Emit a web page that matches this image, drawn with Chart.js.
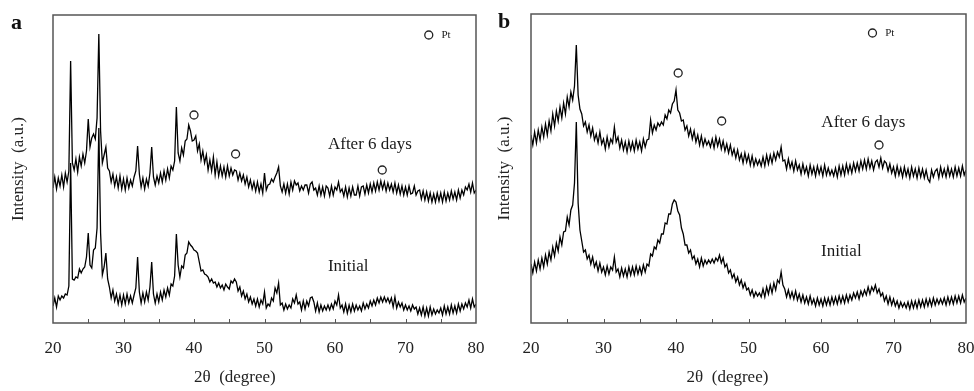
<!DOCTYPE html>
<html>
<head>
<meta charset="utf-8">
<script src="https://cdn.jsdelivr.net/npm/chart.js@4.4.1/dist/chart.umd.min.js"></script>
<style>
    html, body { margin: 0; padding: 0; background: #fff; }
    body { width: 974px; height: 391px; position: relative; overflow: hidden; font-family: "Liberation Serif", serif; }
    .panel { position: absolute; top: 0; width: 487px; height: 391px; }
    #panelA { left: 0; }
    #panelB { left: 487px; }
    .tag { position: absolute; font-size: 22px; font-weight: bold; color: #111; line-height: 1; }
</style>
</head>
<body>
<div class="panel" id="panelA"><canvas id="chartA" width="487" height="391"></canvas></div>
<div class="panel" id="panelB"><canvas id="chartB" width="487" height="391"></canvas></div>
<div class="tag" style="left:11px; top:11px;">a</div>
<div class="tag" style="left:498px; top:10px;">b</div>

<script>
/* ================= DATA ================= */
// 2θ sampling grid, 0.25° steps from 20 to 80
const twoTheta = Array.from({ length: 241 }, (_, i) => 20 + i * 0.25);

// panel a
const afterSixDaysA = [
    135,146,134,145, 137,148,136,150, 141,152,262,160, 153,164,151,166, 157,169,160,172,
    204,176,185,189, 184,205,289,192, 160,168,176,155, 152,141,149,137, 146,135,147,134,
    144,133,145,135, 143,137,146,152, 177,149,136,145, 134,144,137,150, 176,146,138,147,
    140,150,141,152, 143,154,145,157, 153,162,216,170, 162,175,168,182, 184,198,192,182,
    183,187,172,179, 163,172,160,168, 153,163,152,166, 148,161,147,157, 147,156,146,157,
    147,155,148,153, 152,143,150,142, 148,139,146,136, 143,134,141,132, 141,131,139,130,
    150,133,138,139, 144,141,146,150, 156,137,131,139, 130,139,129,141, 133,142,138,140,
    132,137,133,138, 138,130,139,141, 133,135,128,137, 128,136,127,137, 135,127,137,128,
    136,133,141,131, 134,127,136,126, 135,127,136,128, 128,137,127,136, 137,129,138,130,
    139,131,140,132, 141,133,142,134, 141,132,140,133, 139,131,140,130, 138,129,137,128,
    136,128,137,129, 130,137,128,132, 133,124,132,123, 131,122,130,121, 129,121,130,122,
    130,121,131,122, 130,123,132,124, 131,123,133,125, 133,128,136,133, 139,131,140,130,
    133
];
const initialA = [
    17,25,16,27, 23,27,25,29, 28,37,160,44, 43,46,45,54, 50,54,56,66,
    90,58,55,73, 75,95,195,90, 48,56,70,44, 36,25,33,22, 29,19,28,18,
    28,19,29,20, 27,20,28,35, 66,31,20,30, 21,31,23,36, 61,29,20,29,
    21,31,23,33, 26,35,28,39, 37,47,89,58, 46,57,55,68, 70,81,78,76,
    73,72,70,61, 52,53,49,48, 46,41,44,40, 41,36,40,35, 38,33,39,36,
    34,42,40,44, 41,32,36,27, 32,24,29,21, 26,19,24,17, 24,16,23,19,
    31,15,19,17, 25,22,35,30, 40,18,20,13, 19,14,18,15, 24,20,28,19,
    21,13,22,14, 22,17,25,26, 21,12,20,11, 18,12,17,13, 18,13,19,14,
    22,18,28,15, 18,11,19,10, 18,11,19,12, 18,13,17,12, 20,14,19,15,
    22,17,23,18, 25,20,26,21, 26,21,25,20, 25,16,26,15, 21,16,20,13,
    18,13,17,12, 18,14,16,9, 15,8,16,7, 15,7,16,8, 14,9,13,10,
    15,8,17,9, 16,9,18,10, 17,10,19,12, 19,14,20,16, 23,15,24,16,
    19
];
const ptAngleA = [40.0, 45.9, 66.7];
const ptLevelA = [208, 169, 153];

// panel b
const afterSixDaysB = [
    188,178,191,180, 193,183,196,186, 199,188,202,192, 209,197,212,202, 216,205,220,209,
    226,216,231,223, 237,278,228,214, 209,197,201,191, 198,187,195,183, 189,180,191,179,
    184,174,186,176, 184,180,196,181, 186,175,183,173, 181,171,182,173, 181,172,183,174,
    181,172,184,176, 183,184,203,190, 198,193,200,197, 201,198,208,204, 213,210,219,222,
    233,213,210,202, 203,193,197,187, 194,184,192,181, 188,178,187,177, 184,178,182,176,
    184,175,186,177, 184,174,182,172, 179,170,178,168, 174,165,173,163, 169,160,170,161,
    168,158,167,157, 164,158,163,157, 166,157,168,159, 168,160,170,163, 171,166,176,162,
    163,154,164,155, 161,152,162,153, 158,149,159,150, 156,147,158,149, 156,147,157,149,
    156,147,158,148, 155,148,153,147, 155,146,157,148, 157,148,159,150, 158,150,160,152,
    160,152,162,154, 163,154,164,155, 162,153,161,163, 156,165,155,162, 160,152,159,150,
    156,147,157,148, 155,146,156,147, 154,145,156,147, 154,145,155,146, 154,145,153,144,
    141,153,146,152, 154,145,156,147, 154,146,156,147, 154,146,156,147, 155,147,157,148,
    153
];
const initialB = [
    59,50,61,52, 63,54,65,56, 68,59,71,63, 76,67,80,72, 86,78,91,92,
    106,98,113,118, 140,201,120,93, 82,71,73,64, 68,59,66,56, 61,52,60,51,
    56,48,57,49, 56,53,66,51, 54,46,55,47, 54,46,56,48, 56,48,57,49,
    56,49,58,51, 59,57,69,67, 76,74,83,80, 89,89,100,99, 109,109,119,123,
    121,112,108,95, 89,78,78,70, 73,64,67,59, 64,56,65,57, 63,59,63,60,
    64,60,65,62, 68,60,65,56, 59,50,53,45, 49,41,46,38, 43,35,40,33,
    35,28,33,26, 31,27,30,26, 34,26,36,29, 38,30,40,33, 43,40,51,38,
    34,26,33,25, 31,24,32,23, 29,21,28,20, 26,19,27,19, 24,17,25,18,
    24,17,25,18, 25,18,26,19, 26,19,27,20, 27,20,28,21, 28,23,30,25,
    31,24,32,27, 33,28,36,29, 36,32,38,30, 34,27,30,22, 27,19,26,18,
    24,17,22,15, 21,16,20,15, 21,14,22,15, 22,15,23,16, 23,16,24,17,
    24,17,25,18, 24,19,24,19, 25,18,26,19, 26,19,27,20, 27,20,28,21,
    25
];
const ptAngleB = [40.3, 46.3, 68.0];
const ptLevelB = [250, 202, 178];

const minorTickAngles = [25, 30, 35, 40, 45, 50, 55, 60, 65, 70, 75];

const SERIF = '"Liberation Serif", "Times New Roman", serif';

/* ================= FRAME + NOTES PLUGIN ================= */
const framePlugin = {
    id: "frame",
    afterDatasetsDraw(chart, args, opts) {
        const { ctx, chartArea: a, scales: { x, y } } = chart;
        ctx.save();

        // inward ticks on the bottom axis
        ctx.strokeStyle = "#555";
        ctx.lineWidth = 1;
        minorTickAngles.forEach(v => {
            const px = Math.round(x.getPixelForValue(v)) + 0.5;
            ctx.beginPath();
            ctx.moveTo(px, a.bottom);
            ctx.lineTo(px, a.bottom - 4);
            ctx.stroke();
        });

        // box
        ctx.lineWidth = 1.5;
        ctx.strokeStyle = "#555";
        ctx.strokeRect(a.left, a.top, a.right - a.left, a.bottom - a.top);

        // labels inside the plot
        ctx.fillStyle = "#1a1a1a";
        ctx.textAlign = "left";
        ctx.textBaseline = "middle";
        (opts.notes || []).forEach(n => {
            ctx.font = n.size + "px " + SERIF;
            ctx.fillText(n.text, x.getPixelForValue(n.x), y.getPixelForValue(n.y));
        });

        // x axis title (sits a little left of centre in the original)
        ctx.fillStyle = "#222";
        ctx.textAlign = "center";
        ctx.font = "17px " + SERIF;
        ctx.fillText("2θ  (degree)", x.getPixelForValue(opts.titleAt), chart.height - 13);
        ctx.restore();
    }
};

/* ================= PANEL ================= */
function buildPanel(canvasId, upper, lower, ptAngle, ptLevel, legendPt, notes, titleAt, yMax, pad, yWidth, yTitlePad) {

    const toPts = vals => twoTheta.map((t, i) => ({ x: t, y: vals[i] }));
    const markers = ptAngle.map((t, i) => ({ x: t, y: ptLevel[i] }));
    markers.push({ x: legendPt[0], y: legendPt[1] });

    const lineStyle = {
        borderColor: "#000",
        borderWidth: 1.3,
        pointRadius: 0,
        tension: 0,
        fill: false
    };

    return new Chart(document.getElementById(canvasId), {
        type: "line",
        data: {
            datasets: [
                { label: "After 6 days", data: toPts(upper), ...lineStyle },
                { label: "Initial", data: toPts(lower), ...lineStyle },
                {
                    label: "Pt",
                    data: markers,
                    showLine: false,
                    pointRadius: 4,
                    pointBackgroundColor: "#fff",
                    pointBorderColor: "#222",
                    pointBorderWidth: 1.3
                }
            ]
        },
        options: {
            responsive: false,
            animation: false,
            devicePixelRatio: 1,
            layout: { padding: pad },
            plugins: {
                legend: { display: false },
                tooltip: { enabled: false },
                frame: { notes: notes, titleAt: titleAt }
            },
            scales: {
                x: {
                    type: "linear",
                    min: 20,
                    max: 80,
                    grid: { display: false, drawTicks: false },
                    border: { display: false },
                    ticks: {
                        stepSize: 10,
                        padding: 15,
                        maxRotation: 0,
                        color: "#222",
                        font: { family: SERIF, size: 17 }
                    },
                    title: { display: false },
                    afterFit: s => {
                        s.height = 68;
                        s.paddingLeft = 0;
                        s.paddingRight = 0;
                    }
                },
                y: {
                    min: 0,
                    max: yMax,
                    grid: { display: false, drawTicks: false },
                    border: { display: false },
                    ticks: { display: false },
                    title: {
                        display: true,
                        text: "Intensity  (a.u.)",
                        color: "#222",
                        padding: { top: yTitlePad, bottom: 0 },
                        font: { family: SERIF, size: 17 }
                    },
                    afterFit: s => { s.width = yWidth; }
                }
            }
        },
        plugins: [framePlugin]
    });
}

buildPanel("chartA", afterSixDaysA, initialA, ptAngleA, ptLevelA, [73.3, 288],
    [
        { text: "After 6 days", x: 59.0, y: 178, size: 17 },
        { text: "Initial", x: 59.0, y: 56, size: 17 },
        { text: "Pt", x: 75.1, y: 288, size: 11 }
    ],
    45.8, 308, { top: 15, right: 11, left: 0, bottom: 0 }, 53, 8);

buildPanel("chartB", afterSixDaysB, initialB, ptAngleB, ptLevelB, [67.1, 290],
    [
        { text: "After 6 days", x: 60.05, y: 200, size: 17 },
        { text: "Initial", x: 60.0, y: 71, size: 17 },
        { text: "Pt", x: 68.85, y: 290, size: 11 }
    ],
    47.1, 309, { top: 14, right: 8, left: 0, bottom: 0 }, 44, 7);
</script>
</body>
</html>
